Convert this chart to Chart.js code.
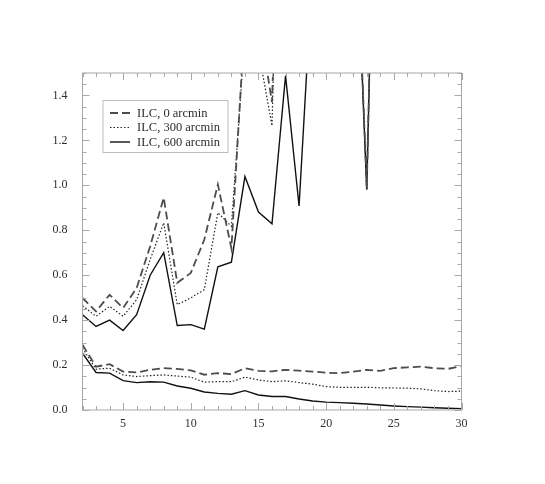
<!DOCTYPE html>
<html>
<head>
<meta charset="utf-8">
<script src="https://cdn.jsdelivr.net/npm/chart.js@4"></script>
<style>
    html, body { margin: 0; padding: 0; background: #ffffff; }
    #ilcChart { display: block; }
</style>
</head>
<body>
<canvas id="ilcChart" width="545" height="484"></canvas>
<script>

/* =========================
   DATA
========================= */

const multipoles = [2, 3, 4, 5, 6, 7, 8, 9, 10, 11, 12, 13, 14, 15, 16,
    17, 18, 19, 20, 21, 22, 23, 24, 25, 26, 27, 28, 29, 30];

const seriesLabels = ["ILC, 0 arcmin", "ILC, 300 arcmin", "ILC, 600 arcmin"];

// upper group (noise), runs off the top after l ~ 18
const upper0 = [0.499, 0.439, 0.513, 0.454, 0.543, 0.729, 0.945, 0.566, 0.610, 0.759,
    1.004, 0.720, 1.75, 1.75, 1.37, 3.2, 3.0, 2.8, 2.9, 2.7, 2.5, 0.99, 3.6,
    3.8, 4.0, 4.1, 4.3, 4.4, 4.6];
const upper300 = [0.464, 0.417, 0.461, 0.417, 0.491, 0.670, 0.833, 0.469, 0.499, 0.536,
    0.878, 0.818, 1.67, 1.60, 1.265, 3.6, 3.1, 2.9, 2.9, 2.7, 2.5, 0.98, 3.6,
    3.8, 4.0, 4.1, 4.3, 4.4, 4.6];
const upper600 = [0.424, 0.372, 0.400, 0.354, 0.424, 0.600, 0.700, 0.376, 0.380, 0.360,
    0.637, 0.658, 1.039, 0.881, 0.829, 1.488, 0.908, 1.97, 2.3, 2.5, 2.5, 0.98, 3.6,
    3.8, 4.0, 4.1, 4.3, 4.4, 4.6];

// lower group
const lower0 = [0.290, 0.193, 0.204, 0.171, 0.167, 0.179, 0.186, 0.183, 0.176, 0.157,
    0.164, 0.160, 0.186, 0.174, 0.172, 0.179, 0.175, 0.171, 0.166, 0.164, 0.171,
    0.179, 0.174, 0.186, 0.190, 0.193, 0.186, 0.183, 0.196];
const lower300 = [0.275, 0.182, 0.186, 0.156, 0.149, 0.153, 0.156, 0.151, 0.146, 0.124,
    0.126, 0.126, 0.146, 0.134, 0.126, 0.130, 0.122, 0.115, 0.104, 0.101, 0.101,
    0.101, 0.099, 0.098, 0.097, 0.094, 0.086, 0.082, 0.084];
const lower600 = [0.253, 0.167, 0.164, 0.131, 0.122, 0.126, 0.124, 0.107, 0.097, 0.080,
    0.074, 0.070, 0.086, 0.067, 0.060, 0.060, 0.049, 0.040, 0.035, 0.033, 0.030,
    0.027, 0.022, 0.018, 0.015, 0.013, 0.010, 0.008, 0.006];

const xTicks = [5, 10, 15, 20, 25, 30];
const yTicks = [0.0, 0.2, 0.4, 0.6, 0.8, 1.0, 1.2, 1.4];

/* =========================
   STYLES
========================= */

const styles = [
    { color: "#4d4d4d", width: 1.8, dash: [8, 4] },
    { color: "#222222", width: 1.2, dash: [1.5, 2] },
    { color: "#111111", width: 1.4, dash: [] }
];

const serif = "'Liberation Serif', 'DejaVu Serif', serif";

function toPoints(values) {
    return values.map((v, i) => ({ x: multipoles[i], y: v }));
}

function makeDataset(values, idx, showInLegend) {
    const s = styles[idx];
    return {
        label: seriesLabels[idx],
        data: toPoints(values),
        borderColor: s.color,
        borderWidth: s.width,
        borderDash: s.dash,
        pointRadius: 0,
        tension: 0,
        fill: false,
        inLegend: showInLegend
    };
}

/* =========================
   PLUGIN: FRAME + INNER TICKS
========================= */

const frameTicks = {
    id: "frameTicks",
    afterDatasetsDraw(chart) {
        const { ctx, chartArea: a, scales } = chart;
        const xs = scales.x, ys = scales.y;

        ctx.save();
        ctx.strokeStyle = "#a8a8a8";
        ctx.lineWidth = 1;
        ctx.strokeRect(a.left, a.top, a.right - a.left, a.bottom - a.top);

        ctx.beginPath();
        for (let v = xs.min; v <= xs.max; v++) {
            const px = Math.round(xs.getPixelForValue(v)) + 0.5;
            const len = v % 5 === 0 ? 7 : 4;
            ctx.moveTo(px, a.bottom); ctx.lineTo(px, a.bottom - len);
            ctx.moveTo(px, a.top); ctx.lineTo(px, a.top + len);
        }
        for (let k = 0; k <= 30; k++) {
            const v = k * 0.05;
            const py = Math.round(ys.getPixelForValue(v)) + 0.5;
            const len = k % 4 === 0 ? 7 : 4;
            ctx.moveTo(a.left, py); ctx.lineTo(a.left + len, py);
            ctx.moveTo(a.right, py); ctx.lineTo(a.right - len, py);
        }
        ctx.stroke();
        ctx.restore();
    }
};

/* =========================
   PLUGIN: LEGEND BOX
========================= */

const legendBox = {
    id: "legendBox",
    afterDraw(chart) {
        const { ctx, chartArea: a } = chart;
        const items = chart.data.datasets.filter(d => d.inLegend);

        const left = a.left + 20.5;
        const top = a.top + 27.5;
        const w = 125, rowH = 14.5, h = 52;

        ctx.save();
        ctx.fillStyle = "#ffffff";
        ctx.fillRect(left, top, w, h);
        ctx.strokeStyle = "#bdbdbd";
        ctx.lineWidth = 1;
        ctx.strokeRect(left, top, w, h);

        ctx.font = "12.5px " + serif;
        ctx.textBaseline = "middle";
        ctx.fillStyle = "#2e2e2e";

        items.forEach((d, i) => {
            const y = top + 12.5 + i * rowH;
            ctx.beginPath();
            ctx.setLineDash(d.borderDash);
            ctx.strokeStyle = d.borderColor;
            ctx.lineWidth = d.borderWidth;
            ctx.moveTo(left + 7, y);
            ctx.lineTo(left + 27, y);
            ctx.stroke();
            ctx.setLineDash([]);
            ctx.fillText(d.label, left + 34, y + 0.5);
        });
        ctx.restore();
    }
};

/* =========================
   CHART
========================= */

new Chart(document.getElementById("ilcChart"), {

    type: "line",

    data: {
        datasets: [
            makeDataset(upper0, 0, true),
            makeDataset(upper300, 1, true),
            makeDataset(upper600, 2, true),
            makeDataset(lower0, 0, false),
            makeDataset(lower300, 1, false),
            makeDataset(lower600, 2, false)
        ]
    },

    options: {
        responsive: false,
        animation: false,
        devicePixelRatio: 1,
        layout: {
            padding: { top: 73, right: 83.5, bottom: 44, left: 0 }
        },
        plugins: {
            legend: { display: false },
            tooltip: { enabled: false }
        },
        scales: {
            x: {
                type: "linear",
                min: 2,
                max: 30,
                grid: { display: false, drawTicks: false },
                border: { display: false },
                afterBuildTicks: s => { s.ticks = xTicks.map(v => ({ value: v })); },
                afterFit: s => { s.height = 30; },
                ticks: {
                    padding: 7,
                    color: "#2e2e2e",
                    font: { family: serif, size: 12 },
                    callback: v => String(v)
                }
            },
            y: {
                min: 0,
                max: 1.5,
                grid: { display: false, drawTicks: false },
                border: { display: false },
                afterBuildTicks: s => { s.ticks = yTicks.map(v => ({ value: v })); },
                afterFit: s => { s.width = 82.5; },
                ticks: {
                    padding: 15,
                    color: "#2e2e2e",
                    font: { family: serif, size: 12 },
                    callback: v => Number(v).toFixed(1)
                }
            }
        }
    },

    plugins: [frameTicks, legendBox]

});

</script>
</body>
</html>
